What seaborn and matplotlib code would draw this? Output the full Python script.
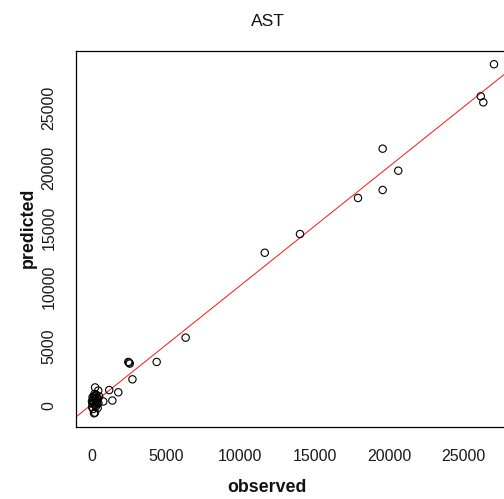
import numpy as np
import pandas as pd
import matplotlib
matplotlib.use("Agg")
import matplotlib.pyplot as plt
import seaborn as sns

# Observed vs. predicted AST values
observed = [27060, 26170, 26340, 19570, 20620, 19570, 17910, 14010, 11640,
            6320, 4370, 2510, 2460, 2560, 2740, 1790, 1180, 1390, 780, 440,
            220, 400, 229, 155,
            50, 80, 120, 150, 200, 230, 260, 300, 330, 350, 380, 420, 450,
            500, 30, 100, 180, 60, 280, 20]
predicted = [28700, 26010, 25500, 21610, 19760, 18140, 17470, 14440, 12870,
             5740, 3700, 3640, 3700, 3560, 2240, 1150, 1340, 460, 380, 1290,
             -560, -170, 1560, -610,
             200, 450, 650, 300, 850, 100, 550, 950, 350, 700, 150, 600, 250,
             800, -100, -250, 1000, 750, -50, 400]

title = "AST"
x_label = "observed"
y_label = "predicted"
ticks = [0, 5000, 10000, 15000, 20000, 25000]

df = pd.DataFrame({"observed": observed, "predicted": predicted})

sns.set_style("white")
plt.rcParams["font.family"] = ["Liberation Sans", "DejaVu Sans"]

W, H = 504, 499
fig = plt.figure(figsize=(W / 100, H / 100), dpi=100)
left_px, right_px, top_px, bottom_px = 76, 510, 50.7, 427
ax = fig.add_axes([left_px / W, (H - bottom_px) / H,
                   (right_px - left_px) / W, (bottom_px - top_px) / H])

# pixel -> data mapping of the tick grid
x0_px, x_scale = 91.7, 0.014867
y0_px, y_scale = 406.0, 0.011908
xlim = ((left_px - x0_px) / x_scale, (right_px - x0_px) / x_scale)
ylim = ((y0_px - bottom_px) / y_scale, (y0_px - top_px) / y_scale)
ax.set_xlim(*xlim)
ax.set_ylim(*ylim)

# least-squares line across the full panel
sns.regplot(data=df, x="observed", y="predicted", ax=ax, scatter=False,
            ci=None, truncate=False,
            line_kws={"color": "#ff2020", "linewidth": 0.75})
ax.set_xlim(*xlim)
ax.set_ylim(*ylim)

sns.scatterplot(data=df, x="observed", y="predicted", ax=ax, s=28,
                facecolor="none", edgecolor="black", linewidth=0.8,
                zorder=3)

for sp in ax.spines.values():
    sp.set_color("black")
    sp.set_linewidth(0.9)

ax.set_xticks(ticks)
ax.set_yticks(ticks)
ax.set_xticklabels([str(t) for t in ticks])
ax.set_yticklabels([str(t) for t in ticks], rotation=90, va="center")
ax.tick_params(axis="both", direction="out", length=7, width=0.8,
               color="black", labelsize=11.5, labelcolor="#1a1a1a")
ax.tick_params(axis="x", pad=9)
ax.tick_params(axis="y", pad=7)
ax.set_xlabel("")
ax.set_ylabel("")

fig.text(268 / W, 1 - 21.7 / H, title, ha="center", va="center",
         fontsize=12.6, color="#111111")
fig.text(266.7 / W, 1 - 488 / H, x_label, ha="center", va="center",
         fontsize=12.8, fontweight="bold", color="#111111")
fig.text(28.3 / W, 1 - 228 / H, y_label, ha="center", va="center",
         rotation=90, fontsize=12.8, fontweight="bold", color="#111111")

fig.savefig("out.png", dpi=100)
